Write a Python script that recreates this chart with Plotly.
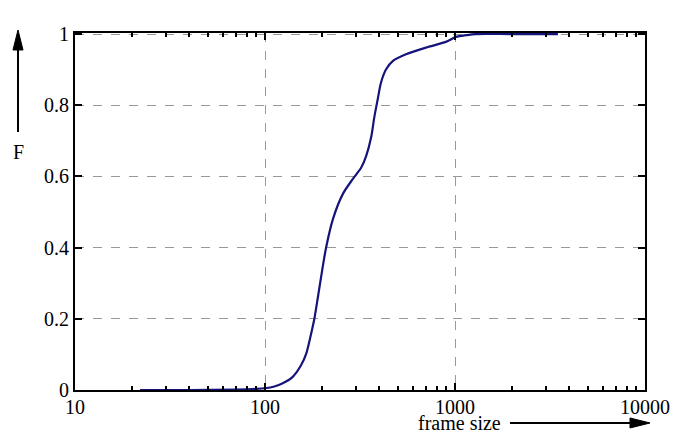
import plotly.graph_objects as go

# valeurs (taille de trame -> F)
frame_size = [22, 40, 70, 90, 100, 112, 124, 140, 155, 165, 175, 182, 190, 200,
              210, 228, 257, 290, 321, 341, 362, 376, 392, 408, 434, 470, 552,
              703, 895, 1012, 1150, 1288, 2000, 3480]
F = [0, 0, 0.001, 0.003, 0.005, 0.010, 0.019, 0.037, 0.070, 0.103, 0.159, 0.201,
     0.262, 0.337, 0.402, 0.481, 0.551, 0.593, 0.625, 0.658, 0.710, 0.766, 0.817,
     0.864, 0.901, 0.924, 0.943, 0.962, 0.978, 0.992, 0.997, 1.0, 1.0, 1.0]

x_ticks = [10, 100, 1000, 10000]
x_ticktext = ["10", "100", "1000", "10000"]
y_ticks = [0, 0.2, 0.4, 0.6, 0.8, 1]
y_ticktext = ["0", "0.2", "0.4", "0.6", "0.8", "1"]

fig = go.Figure()
fig.add_trace(go.Scatter(
    x=frame_size,
    y=F,
    mode='lines',
    line=dict(color='#14147a', width=2.2, shape='spline', smoothing=0.8),
    showlegend=False,
))

# la page ajoute une marge de 8px autour de la figure
fig.update_layout(
    width=690, height=432,
    margin=dict(l=67, r=53, t=25, b=50),
    plot_bgcolor='white',
    paper_bgcolor='white',
    font=dict(family='Liberation Serif, Times New Roman, serif', size=20, color='black'),
)

fig.update_xaxes(
    type='log',
    range=[1, 4],
    tickvals=x_ticks,
    ticktext=x_ticktext,
    ticklabelstandoff=-2,
    ticks='inside', ticklen=7, tickwidth=1.5, tickcolor='black',
    showline=True, linecolor='black', linewidth=2, mirror='allticks',
    showgrid=True, gridcolor='#999999', gridwidth=1, griddash='dash',
    minor=dict(ticks='inside', ticklen=4, tickwidth=1.5, tickcolor='black',
               dtick='D1', showgrid=False),
    zeroline=False,
)
fig.update_yaxes(
    range=[0, 1.003],
    tickvals=y_ticks,
    ticktext=y_ticktext,
    ticks='inside', ticklen=7, tickwidth=1.5, tickcolor='black',
    showline=True, linecolor='black', linewidth=2, mirror='allticks',
    showgrid=True, gridcolor='#999999', gridwidth=1, griddash='dash',
    zeroline=False,
)

# flèches des axes (trait + pointe fine)
fig.add_shape(type='line', xref='paper', yref='paper',
              x0=-0.1, y0=0.7227, x1=-0.1, y1=0.96,
              line=dict(color='black', width=2))
fig.add_shape(type='path', xref='paper', yref='paper',
              path='M -0.1088 0.9524 L -0.0912 0.9524 L -0.1 1.0084 Z',
              fillcolor='black', line=dict(color='black', width=1))
fig.add_shape(type='line', xref='paper', yref='paper',
              x0=0.7632, y0=-0.0924, x1=0.98, y1=-0.0924,
              line=dict(color='black', width=2))
fig.add_shape(type='path', xref='paper', yref='paper',
              path='M 0.9737 -0.0784 L 0.9737 -0.1064 L 1.0088 -0.0924 Z',
              fillcolor='black', line=dict(color='black', width=1))

fig.add_annotation(
    x=-0.1, y=0.667, xref='paper', yref='paper', text='F',
    xanchor='center', yanchor='middle', showarrow=False,
)
fig.add_annotation(
    x=0.675, y=-0.0924, xref='paper', yref='paper', text='frame size',
    xanchor='center', yanchor='middle', showarrow=False,
)

fig.write_html("out.html")
